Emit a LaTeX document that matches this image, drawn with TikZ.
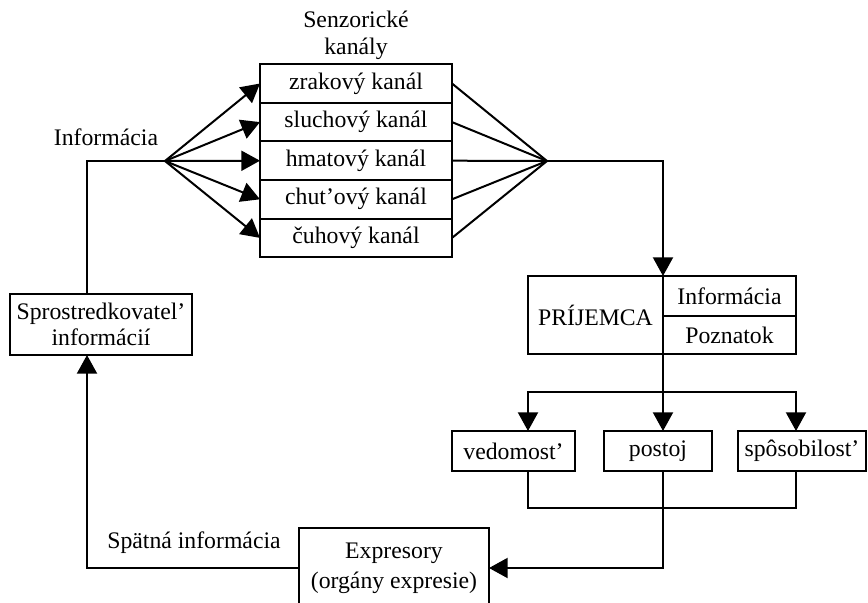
\documentclass[tikz,border=0pt]{standalone}
\usepackage{fontspec}
\setmainfont{Liberation Serif}
\usepackage{tikz}
\usetikzlibrary{arrows.meta}
\usetikzlibrary{positioning}
\tikzset{
    tbox/.style = {draw=black, line width=1.5pt, align=center, inner sep=0pt, outer sep=0pt},
    chan/.style = {tbox, minimum width=144pt, minimum height=28.95pt},
    res/.style = {tbox, minimum height=30pt},
    lbl/.style = {align=center, inner sep=0pt},
    ln/.style = {line width=1.5pt},
    arr/.style = {ln, -{Triangle[length=14pt, width=15pt]}}
}

\begin{document}
\begin{tikzpicture}
                    [x=0.75pt, y=-0.75pt,
                    font=\fontsize{17.8}{20}\selectfont]
                    \useasboundingbox (0,0) rectangle (868,603);

                    % senzoricke kanaly
                    \node [lbl] (senz) at (356,35) {Senzorické\\kanály};
                    \node [chan] (zrak) at (356,83.5) {zrakový kanál};
                    \node [chan, below=0pt of zrak] (sluch) {sluchový kanál};
                    \node [chan, below=0pt of sluch] (hmat) {hmatový kanál};
                    \node [chan, below=0pt of hmat] (chut) {chut’ový kanál};
                    \node [chan, below=0pt of chut] (cuch) {čuhový kanál};

                    % vstup
                    \coordinate (infL) at (165,161);
                    \node [lbl] (infoL) at (106,137) {Informácia};
                    \draw [arr] (infL) -- (zrak.west);
                    \draw [arr] (infL) -- (sluch.west);
                    \draw [arr] (infL) -- (hmat.west);
                    \draw [arr] (infL) -- (chut.west);
                    \draw [arr] (infL) -- (cuch.west);

                    % vystup
                    \coordinate (infR) at (547,161);
                    \draw [ln] (zrak.east) -- (infR);
                    \draw [ln] (sluch.east) -- (infR);
                    \draw [ln] (hmat.east) -- (infR);
                    \draw [ln] (chut.east) -- (infR);
                    \draw [ln] (cuch.east) -- (infR);

                    % prijemca
                    \node [tbox, minimum width=101.25pt, minimum height=58.5pt] (prij) at (595.5,315) {PRÍJEMCA};
                    \node [tbox, minimum width=99.75pt, minimum height=30pt, anchor=north west] (pinf) at (prij.north east) {Informácia};
                    \node [tbox, minimum width=99.75pt, minimum height=28.5pt, anchor=north west] (pzn) at (pinf.south west) {Poznatok};
                    \draw [arr] (infR) -| (prij.north east);

                    % vysledky
                    \node [res, minimum width=92.25pt] (ved) at (513.5,451) {vedomost’};
                    \node [res, minimum width=81pt] (post) at (658,451) {postoj};
                    \node [res, minimum width=96pt] (spos) at (802,451) {spôsobilost’};
                    \coordinate (split) at (663,392);
                    \coordinate (vedIn) at (528,431);
                    \coordinate (sposIn) at (796,431);
                    \draw [ln] (prij.south east) -- (split);
                    \draw [arr] (split) -- (post.north -| split);
                    \draw [arr] (split) -| (vedIn);
                    \draw [arr] (split) -| (sposIn);

                    % expresory
                    \node [tbox, minimum width=142.5pt, minimum height=60pt, font=\fontsize{17.8}{22.5}\selectfont] (expr) at (394,568) {Expresory\\(orgány expresie)};
                    \coordinate (vedOut) at (528,471);
                    \coordinate (sposOut) at (796,471);
                    \coordinate (join) at (663,508);
                    \draw [ln] (vedOut) |- (join) -| (sposOut);
                    \draw [arr] (post.south -| join) -- (join) |- (expr.east);

                    % spatna vazba
                    \node [tbox, minimum width=136.5pt, minimum height=45.75pt] (spr) at (101,324.5) {Sprostredkovatel’\\informácií};
                    \node [lbl] (spat) at (194,543) {Spätná informácia};
                    \coordinate (sprIn) at (87,355);
                    \coordinate (sprOut) at (87,294);
                    \draw [arr] (expr.west) -| (sprIn);
                    \draw [ln] (sprOut) |- (infL);
\end{tikzpicture}
\end{document}
